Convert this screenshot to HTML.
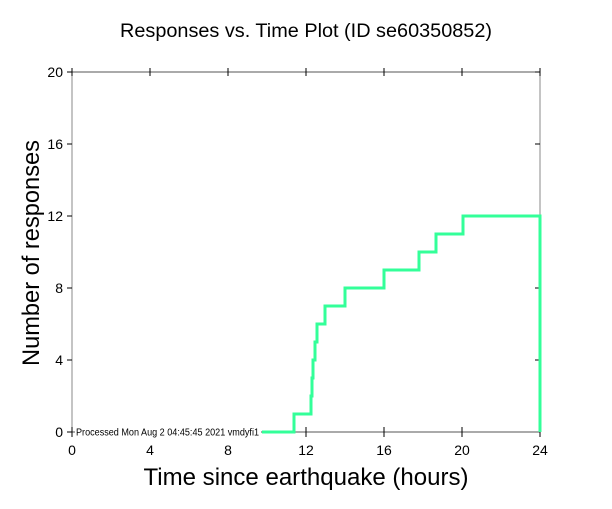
<!DOCTYPE html>
<html><head><style>body{margin:0;background:#fff}</style></head><body>
<svg width="612" height="504" xmlns="http://www.w3.org/2000/svg" font-family="Liberation Sans, sans-serif">
<rect width="612" height="504" fill="#fff"/>
<text x="306" y="37" font-size="19.8" text-anchor="middle" textLength="372" lengthAdjust="spacingAndGlyphs">Responses vs. Time Plot (ID se60350852)</text>
<g stroke="#000" stroke-width="1" fill="none">
<line x1="72" y1="72" x2="72" y2="432" stroke="#888"/>
<line x1="72" y1="432" x2="540" y2="432" stroke="#555"/>
<line x1="72" y1="72" x2="540" y2="72" stroke="#555"/>
<line x1="540" y1="72" x2="540" y2="432" stroke="#888"/>
<path d="M67 72H72M67 144H72M67 216H72M67 288H72M67 360H72M67 432H72"/>
<path d="M540 72H535M540 144H535M540 216H535M540 288H535M540 360H535"/>
<path d="M72 427V437M150 427V437M228 427V437M306 427V437M384 427V437M462 427V437M540 427V437"/>
<path d="M72 68V76M150 68V76M228 68V76M306 68V76M384 68V76M462 68V76M540 68V76"/>
</g>
<g font-size="14" text-anchor="end">
<text x="63" y="77">20</text><text x="63" y="149">16</text><text x="63" y="221">12</text>
<text x="63" y="293">8</text><text x="63" y="365">4</text><text x="63" y="437">0</text>
</g>
<g font-size="14" text-anchor="middle">
<text x="72" y="455">0</text><text x="150" y="455">4</text><text x="228" y="455">8</text>
<text x="306" y="455">12</text><text x="384" y="455">16</text><text x="462" y="455">20</text><text x="540" y="455">24</text>
</g>
<text x="306" y="485" font-size="24" text-anchor="middle" textLength="325" lengthAdjust="spacingAndGlyphs">Time since earthquake (hours)</text>
<text transform="translate(39,253) rotate(-90)" font-size="24" text-anchor="middle" textLength="226" lengthAdjust="spacingAndGlyphs">Number of responses</text>
<rect x="75" y="426" width="186" height="11" fill="#fff"/>
<polyline fill="none" stroke="#33ff99" stroke-width="3" points="262,432 294,432 294,414 311,414 311,396 312,396 312,378 313,378 313,360 315,360 315,342 317,342 317,324 325,324 325,306 345,306 345,288 384,288 384,270 419,270 419,252 436,252 436,234 463,234 463,216 540,216 540,432"/>
<text x="76" y="435.5" font-size="10" textLength="183" lengthAdjust="spacingAndGlyphs">Processed Mon Aug  2 04:45:45 2021 vmdyfi1</text>
</svg>
</body></html>
